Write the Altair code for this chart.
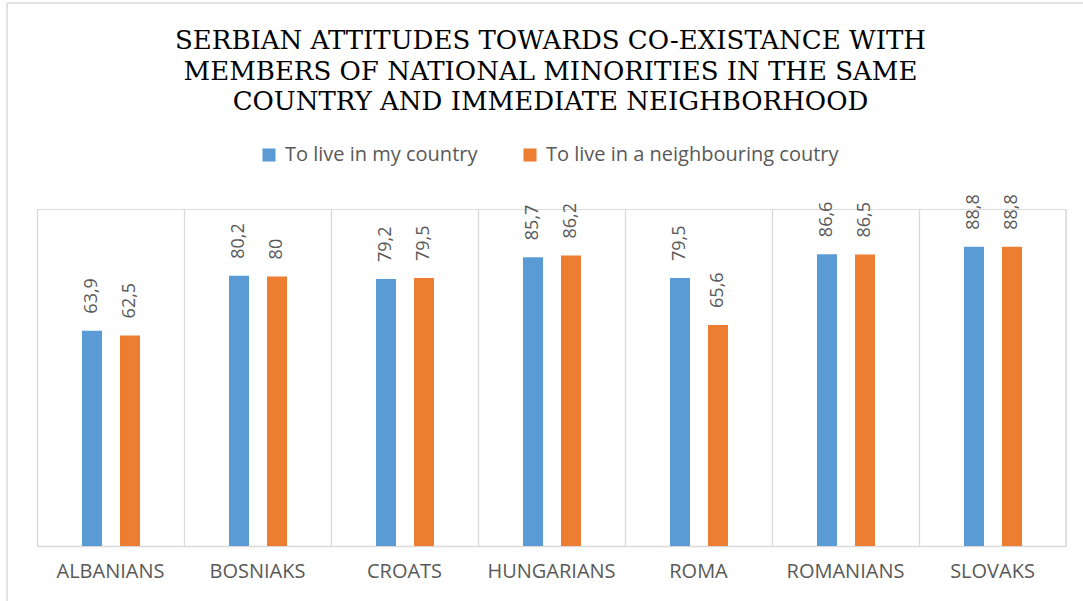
import altair as alt
import pandas as pd

categories = ["ALBANIANS", "BOSNIAKS", "CROATS", "HUNGARIANS", "ROMA", "ROMANIANS", "SLOVAKS"]
series = ["To live in my country", "To live in a neighbouring coutry"]
my_country = [63.9, 80.2, 79.2, 85.7, 79.5, 86.6, 88.8]
neighbouring = [62.5, 80.0, 79.5, 86.2, 65.6, 86.5, 88.8]
colors = ["#5B9BD5", "#ED7D31"]

title_lines = [
    "SERBIAN ATTITUDES TOWARDS CO-EXISTANCE WITH",
    "MEMBERS OF NATIONAL MINORITIES IN THE SAME",
    "COUNTRY AND IMMEDIATE NEIGHBORHOOD",
]


def fmt(v):
    s = f"{v:.1f}"
    if s.endswith(".0"):
        s = s[:-2]
    return s.replace(".", ",")


rows = []
for i, c in enumerate(categories):
    for s, vals in zip(series, [my_country, neighbouring]):
        rows.append({"category": c, "series": s, "value": vals[i], "label": fmt(vals[i])})
df = pd.DataFrame(rows)

W, H = 1029, 337
GRID = "#D9D9D9"
TXT = "#595959"

x_enc = alt.X(
    "category:N",
    sort=categories,
    scale=alt.Scale(paddingInner=0, paddingOuter=0),
    axis=alt.Axis(
        title=None,
        grid=True,
        bandPosition=0,
        gridColor=GRID,
        gridWidth=1.3,
        ticks=False,
        domainColor=GRID,
        domainWidth=1.3,
        labelFont="Open Sans",
        labelFontSize=20,
        labelColor=TXT,
        labelPadding=15,
        labelAngle=0,
    ),
)
xoff = alt.XOffset(
    "series:N",
    sort=series,
    scale=alt.Scale(paddingInner=0.474, paddingOuter=0, range=[45, 103]),
)
y_enc = alt.Y("value:Q", scale=alt.Scale(domain=[0, 100]), axis=None)

bars = alt.Chart(df).mark_bar().encode(
    x=x_enc,
    xOffset=xoff,
    y=y_enc,
    color=alt.Color(
        "series:N",
        sort=series,
        scale=alt.Scale(domain=series, range=colors),
        legend=alt.Legend(
            title=None,
            orient="none",
            legendX=222,
            legendY=-64,
            direction="horizontal",
            symbolType="square",
            symbolSize=170,
            symbolStrokeWidth=0,
            labelFont="Open Sans",
            labelFontSize=20,
            labelColor=TXT,
            labelOffset=6,
            columnPadding=42,
            labelLimit=400,
        ),
    ),
)

labels = alt.Chart(df).mark_text(
    angle=270,
    align="left",
    baseline="middle",
    dx=17,
    font="Open Sans",
    fontSize=18,
    color=TXT,
).encode(
    x=alt.X("category:N", sort=categories),
    xOffset=alt.XOffset("series:N", sort=series),
    y="value:Q",
    text="label:N",
)

title = alt.Chart(alt.Data(values=[{"k": 1}])).mark_text(
    text=title_lines,
    font="DejaVu Serif",
    fontSize=26,
    color="#000000",
    lineHeight=30.5,
    align="center",
    baseline="middle",
).encode(x=alt.value(W / 2 - 1), y=alt.value(-168))

edge = alt.Chart(alt.Data(values=[{"k": 1}])).mark_rule(color=GRID, strokeWidth=1.3).encode(
    x=alt.value(W), y=alt.value(0), y2=alt.value(H)
)
frame_left = alt.Chart(alt.Data(values=[{"k": 1}])).mark_rule(color=GRID, strokeWidth=1.5).encode(
    x=alt.value(-30), y=alt.value(-206), y2=alt.value(392)
)
frame_top = alt.Chart(alt.Data(values=[{"k": 1}])).mark_rule(color=GRID, strokeWidth=1.5).encode(
    x=alt.value(-30), x2=alt.value(1046), y=alt.value(-206)
)

chart = alt.layer(bars, labels, title, edge, frame_left, frame_top).properties(
    width=W,
    height=H,
    autosize=alt.AutoSizeParams(type="none"),
    padding={"left": 37, "top": 209, "right": 17, "bottom": 55},
).configure_view(stroke=None).configure(background="white")

chart.save("out.html", embed_options={"renderer": "svg", "actions": False})
